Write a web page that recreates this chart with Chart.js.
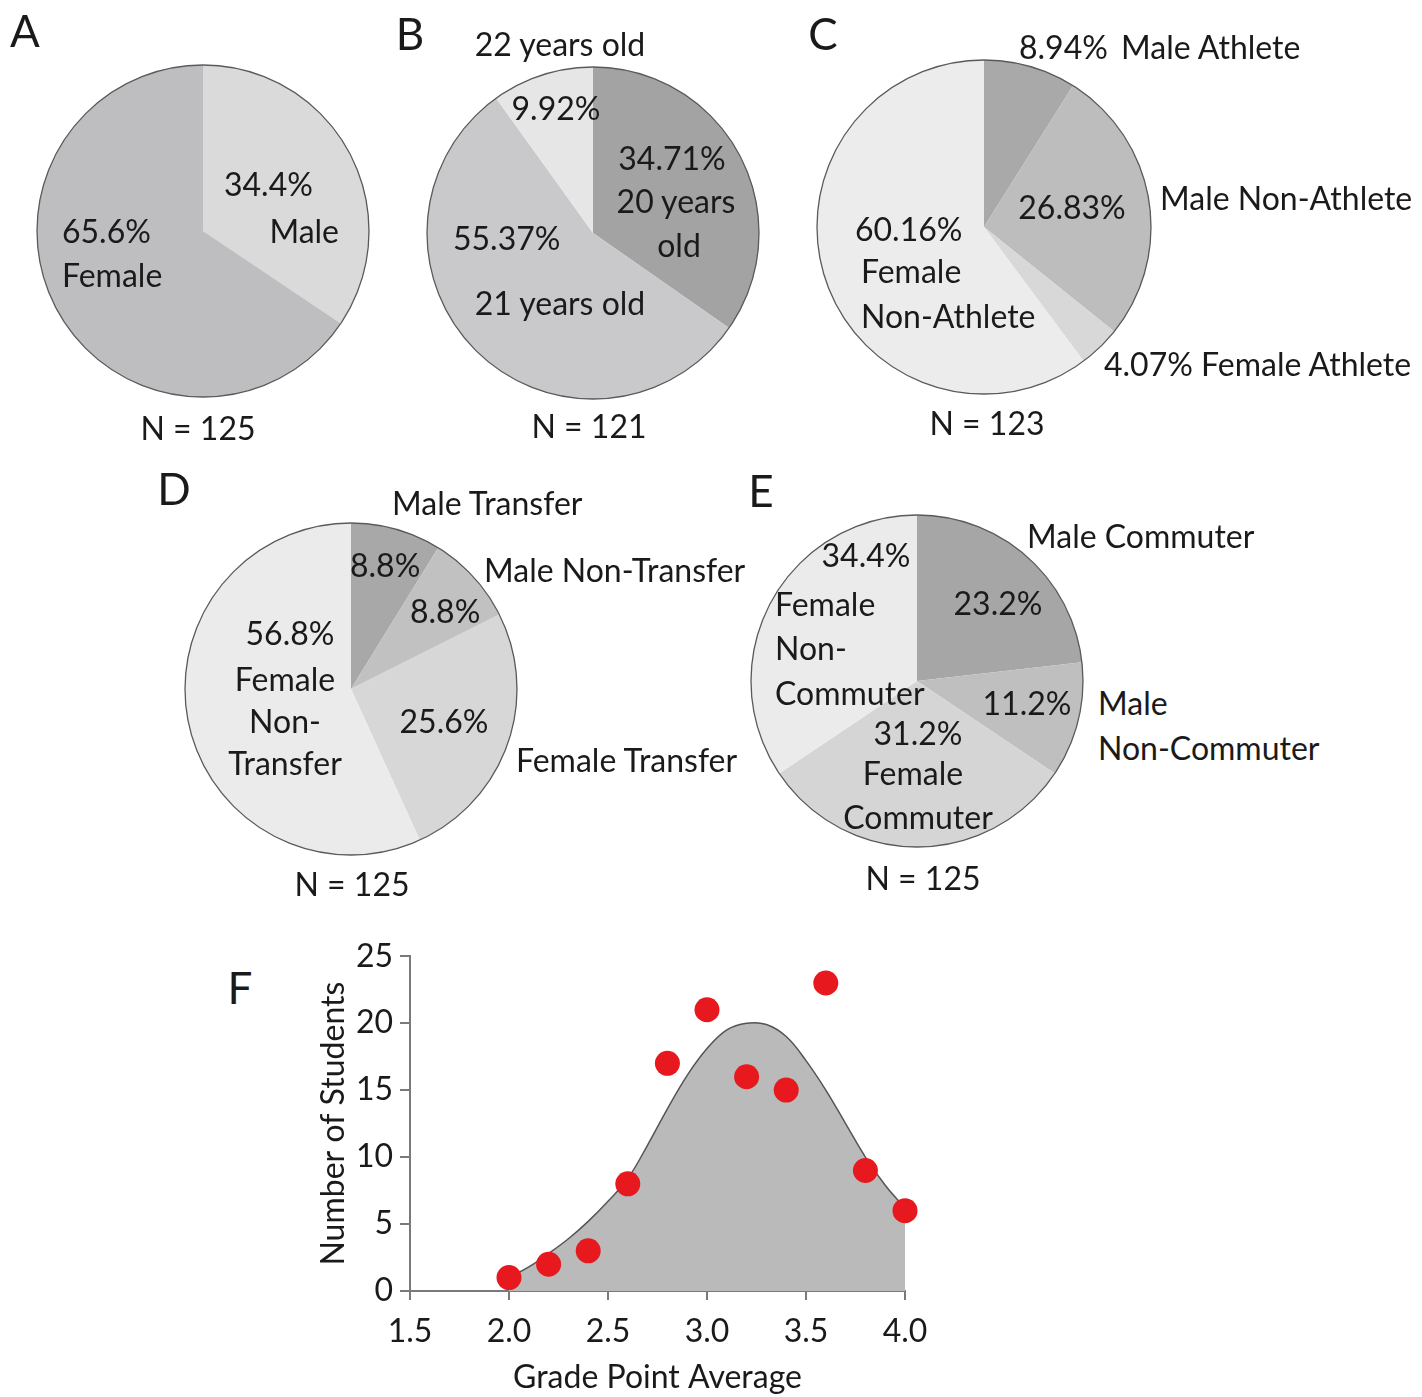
<!DOCTYPE html>
<html>
<head>
<meta charset="utf-8">
<script src="https://cdn.jsdelivr.net/npm/chart.js@4.4.0/dist/chart.umd.min.js"></script>
<style>
body { margin: 0; background: #fff; }
#fig { position: relative; width: 1422px; height: 1397px; overflow: hidden; font-family: Lato, sans-serif; color: #1a1a1a; }
#fig canvas { position: absolute; }
.t { position: absolute; white-space: nowrap; font-size: 32px; line-height: 1; transform: translateY(-50%); }
.t.c { transform: translate(-50%, -50%); }
.t.r { transform: translate(-100%, -50%); }
.t.big { font-size: 44px; }
</style>
</head>
<body>
<div id="fig"></div>
<script>
// A - gender
const genderNames = ['Male', 'Female'];
const genderValues = [34.4, 65.6];
const genderN = 125;

// B - age
const ageNames = ['20 years old', '21 years old', '22 years old'];
const ageValues = [34.71, 55.37, 9.92];
const ageN = 121;

// C - athletes
const athleteNames = ['Male Athlete', 'Male Non-Athlete', 'Female Athlete', 'Female Non-Athlete'];
const athleteValues = [8.94, 26.83, 4.07, 60.16];
const athleteN = 123;

// D - transfer
const transferNames = ['Male Transfer', 'Male Non-Transfer', 'Female Transfer', 'Female Non-Transfer'];
const transferValues = [8.8, 8.8, 25.6, 56.8];
const transferN = 125;

// E - commuter
const commuterNames = ['Male Commuter', 'Male Non-Commuter', 'Female Commuter', 'Female Non-Commuter'];
const commuterValues = [23.2, 11.2, 31.2, 34.4];
const commuterN = 125;

// F - GPA
const gpa = [2.0, 2.2, 2.4, 2.6, 2.8, 3.0, 3.2, 3.4, 3.6, 3.8, 4.0];
const students = [1, 2, 3, 8, 17, 21, 16, 15, 23, 9, 6];
// fitted curve
const fitGpa = [2.0, 2.1, 2.2, 2.3, 2.4, 2.5, 2.6, 2.7, 2.8, 2.9, 3.0, 3.1, 3.2, 3.3, 3.4, 3.5, 3.6, 3.7, 3.8, 3.9, 4.0];
const fitStudents = [1.0, 1.8, 2.8, 3.9, 5.2, 6.7, 8.4, 10.9, 13.6, 16.1, 18.1, 19.5, 20.0, 19.9, 19.0, 17.2, 15.0, 12.5, 10.0, 7.9, 6.2];
const xTicks = [1.5, 2.0, 2.5, 3.0, 3.5, 4.0];
const yTicks = [0, 5, 10, 15, 20, 25];

const fig = document.getElementById('fig');
const pct = v => v + '%';
const nText = n => 'N = ' + n;

function text(str, x, y, align, cls) {
    const d = document.createElement('div');
    d.className = 't ' + (align || '') + (cls ? ' ' + cls : '');
    d.textContent = str;
    d.style.left = x + 'px';
    d.style.top = y + 'px';
    fig.appendChild(d);
}

// dark ring round the pie only, no lines between the slices
const outline = {
    id: 'outline',
    afterDatasetsDraw(chart) {
        const arc = chart.getDatasetMeta(0).data[0];
        const ctx = chart.ctx;
        ctx.save();
        ctx.beginPath();
        ctx.arc(arc.x, arc.y, arc.outerRadius, 0, Math.PI * 2);
        ctx.strokeStyle = '#5a5a5a';
        ctx.lineWidth = 1.3;
        ctx.stroke();
        ctx.restore();
    }
};

function pie(cx, cy, r, names, values, colors) {
    const size = 360;
    const c = document.createElement('canvas');
    c.width = size;
    c.height = size;
    c.style.left = (cx - size / 2) + 'px';
    c.style.top = (cy - size / 2) + 'px';
    fig.appendChild(c);
    new Chart(c.getContext('2d'), {
        type: 'pie',
        data: {
            labels: names,
            datasets: [{ data: values, backgroundColor: colors, borderWidth: 0 }]
        },
        options: {
            responsive: false,
            animation: false,
            radius: r,
            plugins: { legend: { display: false }, tooltip: { enabled: false } }
        },
        plugins: [outline]
    });
}

pie(203, 231, 166, genderNames, genderValues, ['#dadada', '#bebec0']);
pie(593, 233, 166, ageNames, ageValues, ['#a3a3a3', '#c9c9cc', '#e6e6e6']);
pie(984, 227, 167, athleteNames, athleteValues, ['#a9a9a9', '#bdbdbd', '#d8d8d8', '#ececec']);
pie(351, 689, 166, transferNames, transferValues, ['#a8a8a8', '#c1c1c1', '#d7d7d7', '#ebebeb']);
pie(917, 681, 166, commuterNames, commuterValues, ['#a6a6a6', '#bfbfbf', '#d5d5d5', '#ebebeb']);

// A
text('A', 25, 30, 'c', 'big');
text(pct(genderValues[0]), 224, 184);
text(genderNames[0], 339, 231, 'r');
text(pct(genderValues[1]), 62, 231);
text(genderNames[1], 62, 275);
text(nText(genderN), 198, 428, 'c');

// B
text('B', 410, 33, 'c', 'big');
text(ageNames[2], 560, 44, 'c');
text(pct(ageValues[2]), 556, 108, 'c');
text(pct(ageValues[0]), 672, 158, 'c');
text('20 years', 676, 201, 'c');
text('old', 679, 245, 'c');
text(pct(ageValues[1]), 453, 238);
text(ageNames[1], 560, 303, 'c');
text(nText(ageN), 589, 426, 'c');

// C
text('C', 823, 33, 'c', 'big');
text(pct(athleteValues[0]), 1019, 47);
text(athleteNames[0], 1121, 47);
text(athleteNames[1], 1160, 198);
text(pct(athleteValues[1]), 1072, 207, 'c');
text(pct(athleteValues[3]), 855, 229);
text('Female', 861, 271);
text('Non-Athlete', 861, 316);
text(pct(athleteValues[2]) + ' ' + athleteNames[2], 1104, 364);
text(nText(athleteN), 987, 423, 'c');

// D
text('D', 174, 488, 'c', 'big');
text(transferNames[0], 392, 503);
text(pct(transferValues[0]), 350, 565);
text(transferNames[1], 484, 570);
text(pct(transferValues[1]), 410, 611);
text(pct(transferValues[3]), 290, 633, 'c');
text('Female', 285, 679, 'c');
text('Non-', 285, 721, 'c');
text('Transfer', 285, 763, 'c');
text(pct(transferValues[2]), 444, 721, 'c');
text(transferNames[2], 516, 760);
text(nText(transferN), 352, 884, 'c');

// E
text('E', 761, 490, 'c', 'big');
text(commuterNames[0], 1027, 536);
text(pct(commuterValues[3]), 866, 555, 'c');
text('Female', 775, 604);
text(pct(commuterValues[0]), 998, 603, 'c');
text('Non-', 775, 648);
text('Commuter', 775, 693);
text(pct(commuterValues[1]), 1027, 703, 'c');
text('Male', 1098, 703);
text(pct(commuterValues[2]), 918, 733, 'c');
text('Non-Commuter', 1098, 748);
text('Female', 913, 773, 'c');
text('Commuter', 918, 817, 'c');
text(nText(commuterN), 923, 878, 'c');

// F
text('F', 240, 987, 'c', 'big');

const fc = document.createElement('canvas');
fc.width = 650;
fc.height = 467;
fc.style.left = '290px';
fc.style.top = '930px';
fig.appendChild(fc);

const axisFont = { family: 'Lato', size: 32 };
const axisGray = '#7a7a7a';

new Chart(fc.getContext('2d'), {
    type: 'scatter',
    data: {
        datasets: [{
            type: 'scatter',
            data: gpa.map((x, i) => ({ x: x, y: students[i] })),
            backgroundColor: '#e8191e',
            borderWidth: 0,
            pointRadius: 12.5,
            clip: false,
            order: 0
        }, {
            type: 'line',
            data: fitGpa.map((x, i) => ({ x: x, y: fitStudents[i] })),
            borderColor: '#555555',
            borderWidth: 1.5,
            backgroundColor: '#bababa',
            fill: 'origin',
            pointRadius: 0,
            tension: 0.4,
            order: 1
        }]
    },
    options: {
        responsive: false,
        animation: false,
        layout: { padding: { top: 25, right: 35, left: 0, bottom: 0 } },
        plugins: { legend: { display: false }, tooltip: { enabled: false } },
        scales: {
            x: {
                type: 'linear',
                min: 1.5,
                max: 4.0,
                afterFit(s) { s.height = 106; },
                afterBuildTicks(s) { s.ticks = xTicks.map(v => ({ value: v })); },
                ticks: { callback: v => v.toFixed(1), font: axisFont, color: '#1a1a1a', padding: 12, maxRotation: 0 },
                grid: { drawOnChartArea: false, tickLength: 9, color: axisGray, lineWidth: 2 },
                border: { color: axisGray, width: 2 },
                title: { display: true, text: 'Grade Point Average', font: axisFont, color: '#1a1a1a', padding: 0 }
            },
            y: {
                min: 0,
                max: 25,
                afterFit(s) { s.width = 120; },
                afterBuildTicks(s) { s.ticks = yTicks.map(v => ({ value: v })); },
                ticks: { font: axisFont, color: '#1a1a1a', padding: 7 },
                grid: { drawOnChartArea: false, tickLength: 10, color: axisGray, lineWidth: 2 },
                border: { color: axisGray, width: 2 },
                title: { display: true, text: 'Number of Students', font: axisFont, color: '#1a1a1a', padding: { top: 24, bottom: 0 } }
            }
        }
    }
});
</script>
</body>
</html>
